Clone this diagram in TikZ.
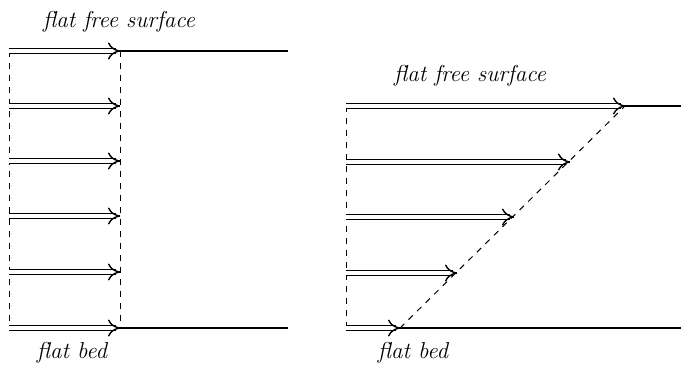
\documentclass[tikz,border=0pt]{standalone}
\usetikzlibrary{arrows.meta}
\begin{document}
\begin{tikzpicture}[x=0.5pt,y=-0.5pt,
  vel/.style={double, double distance=1.6pt, line width=0.7pt, shorten >=2.2pt},
  velhead/.style={line width=0.7pt, -{Computer Modern Rightarrow[length=6pt,width=8.5pt]}},
  surf/.style={line width=0.6pt},
  guide/.style={dashed, line width=0.5pt},
  lbl/.style={font=\fontsize{11.5}{14}\selectfont\itshape, inner sep=0pt}]
\useasboundingbox (0,0) rectangle (683,371);
% left panel
\foreach \i/\y in {1/51,2/106,3/161,4/216,5/272,6/328}{
  \coordinate (La\i) at (9,\y);
  \coordinate (Lb\i) at (120,\y);
}
\coordinate (Lt) at (288,51);
\coordinate (Lbot) at (288,328);
\draw[guide] (La1) -- (La6);
\draw[guide] (Lb1) -- (Lb6);
\foreach \i in {1,...,6}{
  \draw[vel] (La\i) -- (Lb\i);
  \draw[velhead] ([xshift=-0.5pt]Lb\i) -- (Lb\i);
}
\draw[surf] (Lb1) -- (Lt);
\draw[surf] (Lb6) -- (Lbot);
\node[lbl, anchor=base] (Llabtop) at (119,27) {flat free surface};
\node[lbl, anchor=base] (Llabbot) at (72,358) {flat bed};
% right panel
\foreach \i/\y/\x in {1/106/625,2/162/570,3/217/514,4/273/457,5/328/400}{
  \coordinate (Ra\i) at (346,\y);
  \coordinate (Rb\i) at (\x,\y);
}
\coordinate (Rt) at (681,106);
\coordinate (Rbot) at (681,328);
\draw[guide] (Ra1) -- (Ra5);
\draw[guide] (Rb5) -- (Rb1);
\foreach \i in {1,...,5}{
  \draw[vel] (Ra\i) -- (Rb\i);
  \draw[velhead] ([xshift=-0.5pt]Rb\i) -- (Rb\i);
}
\draw[surf] (Rb1) -- (Rt);
\draw[surf] (Rb5) -- (Rbot);
\node[lbl, anchor=base] (Rlabtop) at (470,81) {flat free surface};
\node[lbl, anchor=base] (Rlabbot) at (413,358) {flat bed};
\end{tikzpicture}
\end{document}
